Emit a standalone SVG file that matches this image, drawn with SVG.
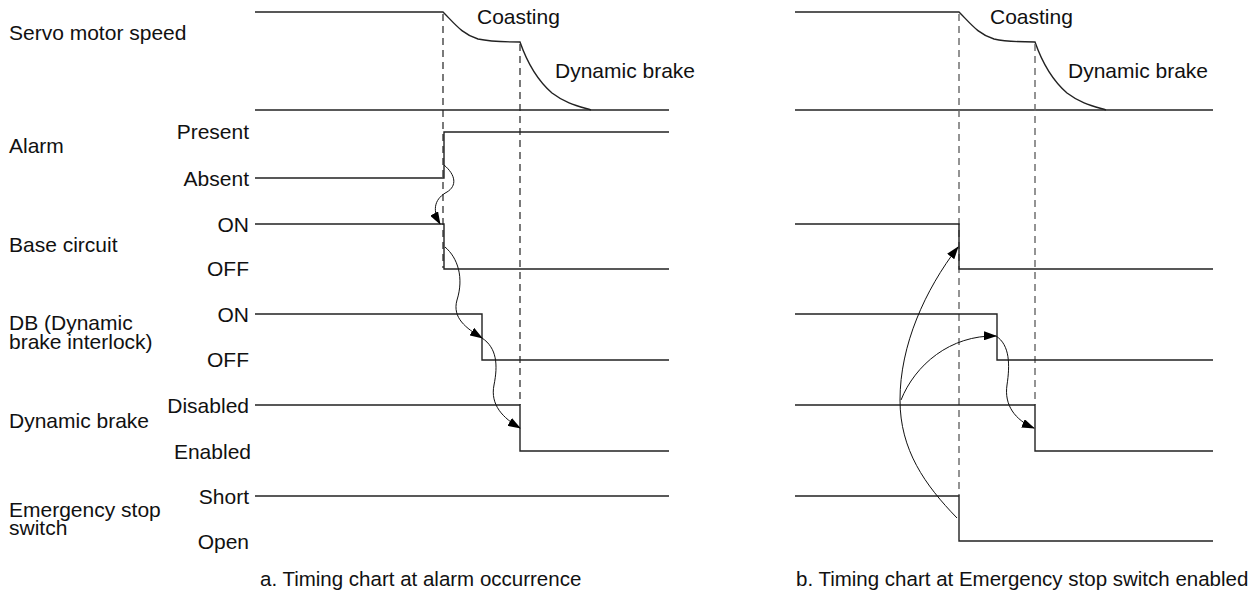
<svg xmlns="http://www.w3.org/2000/svg" width="1259" height="595" viewBox="0 0 1259 595">
<defs>
<marker id="ah" viewBox="0 0 13 9" refX="12" refY="4.5" markerWidth="13" markerHeight="9" markerUnits="userSpaceOnUse" orient="auto">
<path d="M0,0 L13,4.5 L0,9 Z" fill="#000"/>
</marker>
<style>
text{font-family:"Liberation Sans",Arial,sans-serif;font-size:21px;fill:#111}
.st{text-anchor:end}
.cap{font-size:20.5px}
.sig{fill:none;stroke:#222;stroke-width:1.4}
.dash{fill:none;stroke:#222;stroke-width:1.2;stroke-dasharray:7 5}
.dash2{fill:none;stroke:#666;stroke-width:1.4;stroke-dasharray:7 5}
.arr{fill:none;stroke:#111;stroke-width:1;marker-end:url(#ah)}
</style>
</defs>
<rect width="1259" height="595" fill="#fff"/>
<g id="labels">
<text x="9" y="40">Servo motor speed</text>
<text x="9" y="153">Alarm</text>
<text x="9" y="252">Base circuit</text>
<text x="9" y="330">DB (Dynamic</text>
<text x="9" y="349">brake interlock)</text>
<text x="9" y="428">Dynamic brake</text>
<text x="9" y="517">Emergency stop</text>
<text x="9" y="535">switch</text>
<text class="st" x="249" y="139">Present</text>
<text class="st" x="249" y="185.5">Absent</text>
<text class="st" x="249" y="231.5">ON</text>
<text class="st" x="249" y="276">OFF</text>
<text class="st" x="249" y="321.5">ON</text>
<text class="st" x="249" y="367">OFF</text>
<text class="st" x="249" y="412.5">Disabled</text>
<text class="st" x="251" y="458.5">Enabled</text>
<text class="st" x="249" y="503.5">Short</text>
<text class="st" x="249" y="548.5">Open</text>
<text class="cap" x="260" y="586">a. Timing chart at alarm occurrence</text>
<text class="cap" x="796" y="586">b. Timing chart at Emergency stop switch enabled</text>
</g>
<g id="chart-a">
<g id="a-speed">
<path class="sig" d="M255,12 H443 C455,24 462,34 478,39 C492,42 505,42 520,42 C527,62 537,80 552,93 C565,103 578,106 591,110"/>
<line class="sig" x1="255" y1="110" x2="669" y2="110"/>
<text x="477" y="24">Coasting</text>
<text x="555" y="78">Dynamic brake</text>
</g>
<g id="a-dashes">
<line class="dash" x1="443" y1="14" x2="443" y2="268"/>
<line class="dash" x1="520" y1="44" x2="520" y2="405"/>
</g>
<g id="a-alarm"><path class="sig" d="M255,178 H444 V132 H669"/></g>
<g id="a-base"><path class="sig" d="M255,224 H444 V269 H669"/></g>
<g id="a-db"><path class="sig" d="M255,314 H482 V360 H669"/></g>
<g id="a-dynbrake"><path class="sig" d="M255,405 H520 V451 H669"/></g>
<g id="a-estop"><path class="sig" d="M255,496 H669"/></g>
</g>
<g id="chart-b">
<g id="b-speed">
<path class="sig" d="M795,12 H959 C971,24 978,34 994,39 C1008,42 1021,42 1035,42 C1042,62 1052,80 1067,93 C1080,103 1093,106 1106,110"/>
<line class="sig" x1="795" y1="110" x2="1213" y2="110"/>
<text x="990" y="24">Coasting</text>
<text x="1068" y="78">Dynamic brake</text>
</g>
<g id="b-dashes">
<line class="dash2" x1="959" y1="14" x2="959" y2="496"/>
<line class="dash2" x1="1035" y1="44" x2="1035" y2="405"/>
</g>
<g id="b-base"><path class="sig" d="M795,224 H959 V269 H1213"/></g>
<g id="b-db"><path class="sig" d="M795,314 H997 V360 H1213"/></g>
<g id="b-dynbrake"><path class="sig" d="M795,405 H1035 V451 H1213"/></g>
<g id="b-estop"><path class="sig" d="M795,496 H959 V541 H1213"/></g>
</g>
<g id="connectors">
<path class="arr" d="M444,165 C456,175 457,186 447,192 C436,198 431,208 440,224"/>
<path class="arr" d="M445,247 C458,258 464,278 457,300 C452,318 466,328 482,338"/>
<path class="arr" d="M482,338 C497,348 498,365 494,385 C490,405 503,418 520,428"/>
<path class="arr" d="M957,518 C925,485 900,450 900,400 C900,345 925,290 958,247"/>
<path class="arr" d="M901,400 C915,365 950,335 996,336"/>
<path class="arr" d="M996,336 C1010,345 1010,365 1007,385 C1004,405 1015,420 1034,428"/>
</g>
</svg>
